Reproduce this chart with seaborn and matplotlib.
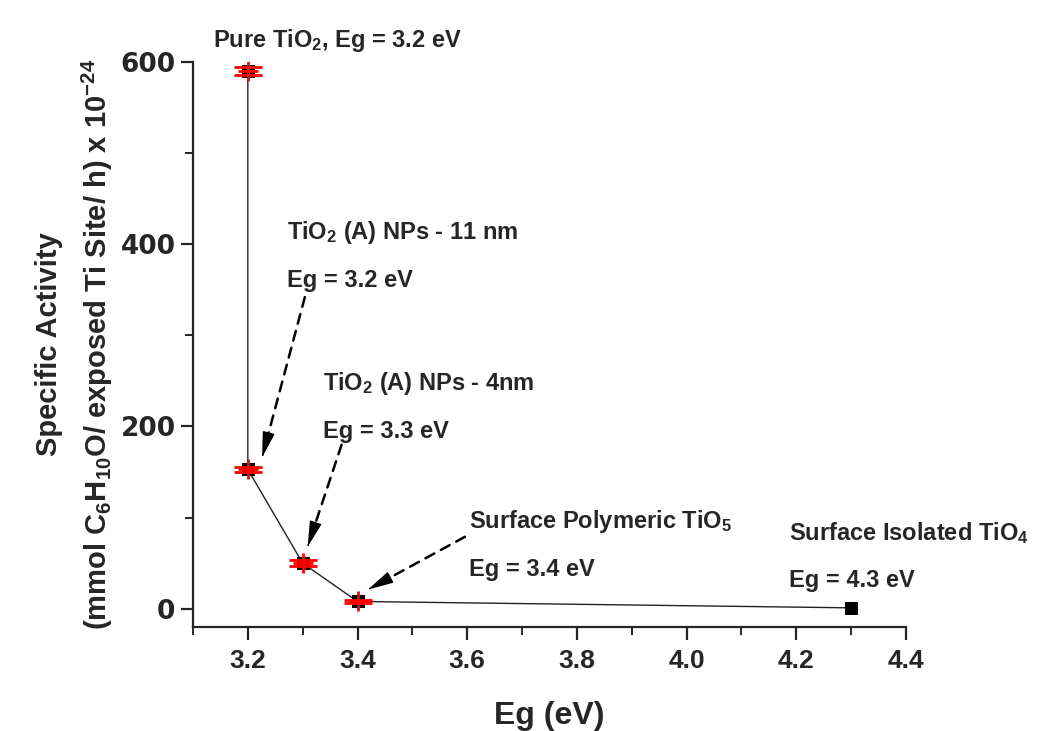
import numpy as np
import pandas as pd
import matplotlib
matplotlib.use("Agg")
import matplotlib.pyplot as plt
import seaborn as sns
from matplotlib.ticker import MultipleLocator

# ---- data ----
eg_values = [3.2, 3.2, 3.3, 3.4, 4.3]
activity = [590, 153, 50, 8, 1]
err_eg = [3.2, 3.2, 3.3, 3.4]
err_act = [590, 153, 50, 8]
err_size = [4, 3, 3, 2]

labels = [
    r"Pure TiO$_2$, Eg = 3.2 eV",
    "TiO$_2$ (A) NPs - 11 nm\n\nEg = 3.2 eV",
    "TiO$_2$ (A) NPs - 4nm\n\nEg = 3.3 eV",
    "Surface Polymeric TiO$_5$\n\nEg = 3.4 eV",
    "Surface Isolated TiO$_4$\n\nEg = 4.3 eV",
]
label_xy = [(3.136, 624), (3.271, 388), (3.337, 222), (3.603, 70), (4.186, 58)]
arrow_from = [(3.304, 342), (3.371, 180), (3.596, 79)]
arrow_to = [(3.226, 166), (3.309, 68), (3.419, 21)]

sns.set_style("ticks")
plt.rcParams.update({
    "font.family": ["Liberation Sans", "DejaVu Sans"],
    "font.weight": "bold",
    "mathtext.fontset": "custom",
    "mathtext.rm": "Liberation Sans:bold",
    "mathtext.it": "Liberation Sans:bold",
    "mathtext.bf": "Liberation Sans:bold",
    "mathtext.default": "rm",
})

df = pd.DataFrame({"Eg": eg_values, "Activity": activity})

fig = plt.figure(figsize=(10.38, 7.31), dpi=100)
ax = fig.add_axes([0.1859, 0.1423, 0.6869, 0.7729])

sns.lineplot(data=df, x="Eg", y="Activity", sort=False, estimator=None,
             color="#222222", lw=1.0, ax=ax, zorder=2)
sns.scatterplot(data=df, x="Eg", y="Activity", marker="s", s=80,
                color="black", edgecolor="black", ax=ax, zorder=3)
ax.errorbar(err_eg, err_act, yerr=err_size, fmt="none", ecolor="red",
            elinewidth=2, capsize=10, capthick=2, zorder=4)
ax.scatter(err_eg, err_act, marker="+", s=200, color="red", linewidths=2, zorder=4)

ax.set_xlim(3.1, 4.4)
ax.set_ylim(-20, 600)
ax.xaxis.set_major_locator(MultipleLocator(0.2))
ax.xaxis.set_minor_locator(MultipleLocator(0.1))
ax.yaxis.set_major_locator(MultipleLocator(200))
ax.yaxis.set_minor_locator(MultipleLocator(100))
ax.set_xticks(np.arange(3.2, 4.41, 0.2))
ax.set_xticklabels([f"{v:.1f}" for v in np.arange(3.2, 4.41, 0.2)])

sns.despine(ax=ax)
for s in ["left", "bottom"]:
    ax.spines[s].set_linewidth(1.6)
ax.tick_params(which="major", direction="out", length=9, width=1.6)
ax.tick_params(which="minor", direction="out", length=6, width=1.4)
ax.tick_params(axis="x", pad=7)
for t in ax.get_xticklabels():
    t.set_fontsize(19)
    t.set_fontweight("bold")
for t in ax.get_yticklabels():
    t.set_fontsize(19)
    t.set_fontweight("bold")
    t.set_family("DejaVu Sans")

ax.set_xlabel("Eg (eV)", fontsize=23, fontweight="bold", labelpad=20)
ax.set_ylabel("Specific Activity\n(mmol C$_6$H$_{10}$O/ exposed Ti Site/ h) x 10$^{-24}$",
              fontsize=21, fontweight="bold", labelpad=4, linespacing=1.6)

for i, (txt, (x, y)) in enumerate(zip(labels, label_xy)):
    ax.text(x, y, txt, fontsize=17, fontweight="bold", ha="left", va="center",
            clip_on=False, linespacing=1.0)

for (x0, y0), (x1, y1) in zip(arrow_from, arrow_to):
    # dashed shaft
    ax.annotate("", xy=(x1, y1), xytext=(x0, y0),
                arrowprops=dict(arrowstyle="-", linestyle=(0, (4, 3)), lw=1.8,
                                color="black", shrinkA=0, shrinkB=8))
    # solid head
    xm = x1 + (x0 - x1) * 0.02
    ym = y1 + (y0 - y1) * 0.02
    ax.annotate("", xy=(x1, y1), xytext=(xm, ym),
                arrowprops=dict(arrowstyle="-|>,head_length=1.6,head_width=0.38",
                                lw=1.0, color="black", shrinkA=0, shrinkB=0))

fig.savefig("out.png", dpi=100, facecolor="white")
